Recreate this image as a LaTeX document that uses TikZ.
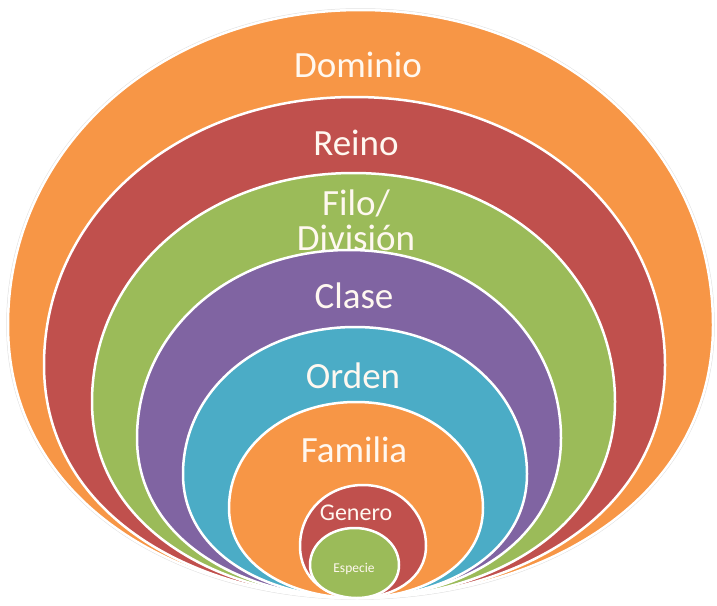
\documentclass[tikz,border=0pt]{standalone}
\usepackage{fontspec}
\setmainfont{Carlito}
\definecolor{cOrange}{HTML}{F79646}
\definecolor{cRed}{HTML}{C0504D}
\definecolor{cGreen}{HTML}{9BBB59}
\definecolor{cPurple}{HTML}{8064A2}
\definecolor{cBlue}{HTML}{4BACC6}
\definecolor{cText}{HTML}{FFF8F0}
\def\kb{0.52}
\def\kr{0.64}
\def\ku{0.565}
\newcommand\layerpath[4]{(357,598) .. controls ({357+\kb*(#2-357)},598) and (#2,{#4+\kr*(598-#4)}) .. (#2,#4) .. controls (#2,{#4-\ku*(#4-#3)}) and ({(#1+#2)/2+\ku*(#2-#1)/2},#3) .. ({(#1+#2)/2},#3) .. controls ({(#1+#2)/2-\ku*(#2-#1)/2},#3) and (#1,{#4-\ku*(#4-#3)}) .. (#1,#4) .. controls (#1,{#4+\kr*(598-#4)}) and ({357-\kb*(357-#1)},598) .. cycle}
\tikzset{
  ring/.style={draw=white, line width=2.5pt},
  lbl/.style={text=cText, anchor=base, inner sep=0pt, font=\fontsize{37}{37}\selectfont},
  lblsmall/.style={lbl, font=\fontsize{24}{24}\selectfont},
  lbltiny/.style={lbl, font=\fontsize{13.5}{13.5}\selectfont}
}
\begin{document}
\begin{tikzpicture}[x=1pt,y=-1pt]
\useasboundingbox (0,0) rectangle (717,605);
\fill[white] (0,0) rectangle (717,605);
% outer faint halo
\draw[black!12, line width=3.5pt] \layerpath{8}{713}{10}{325};
\path[ring, fill=cOrange] \layerpath{8}{713}{10}{325};
\node[lbl] (dominio) at (358,77) {Dominio};
\path[ring, fill=cRed] \layerpath{44}{665}{97}{365};
\node[lbl] (reino) at (356,155) {Reino};
\path[ring, fill=cGreen] \layerpath{92}{615}{173}{402};
\node[lbl] (filo) at (356,215) {Filo/};
\node[lbl] (division) at (356,250) {División};
\path[ring, fill=cPurple] \layerpath{137}{561}{250}{438};
\node[lbl] (clase) at (354,308) {Clase};
\path[ring, fill=cBlue] \layerpath{183}{527}{327}{474};
\node[lbl] (orden) at (353,388) {Orden};
\path[ring, fill=cOrange] \layerpath{229}{483}{402}{508};
\node[lbl] (familia) at (354,462) {Familia};
\path[ring, fill=cRed] \layerpath{300}{426}{485}{546};
\node[lblsmall] (genero) at (356,520) {Genero};
\path[ring, fill=cGreen] \layerpath{310}{399}{528}{565};
\node[lbltiny] (especie) at (354,572) {Especie};
\end{tikzpicture}
\end{document}
